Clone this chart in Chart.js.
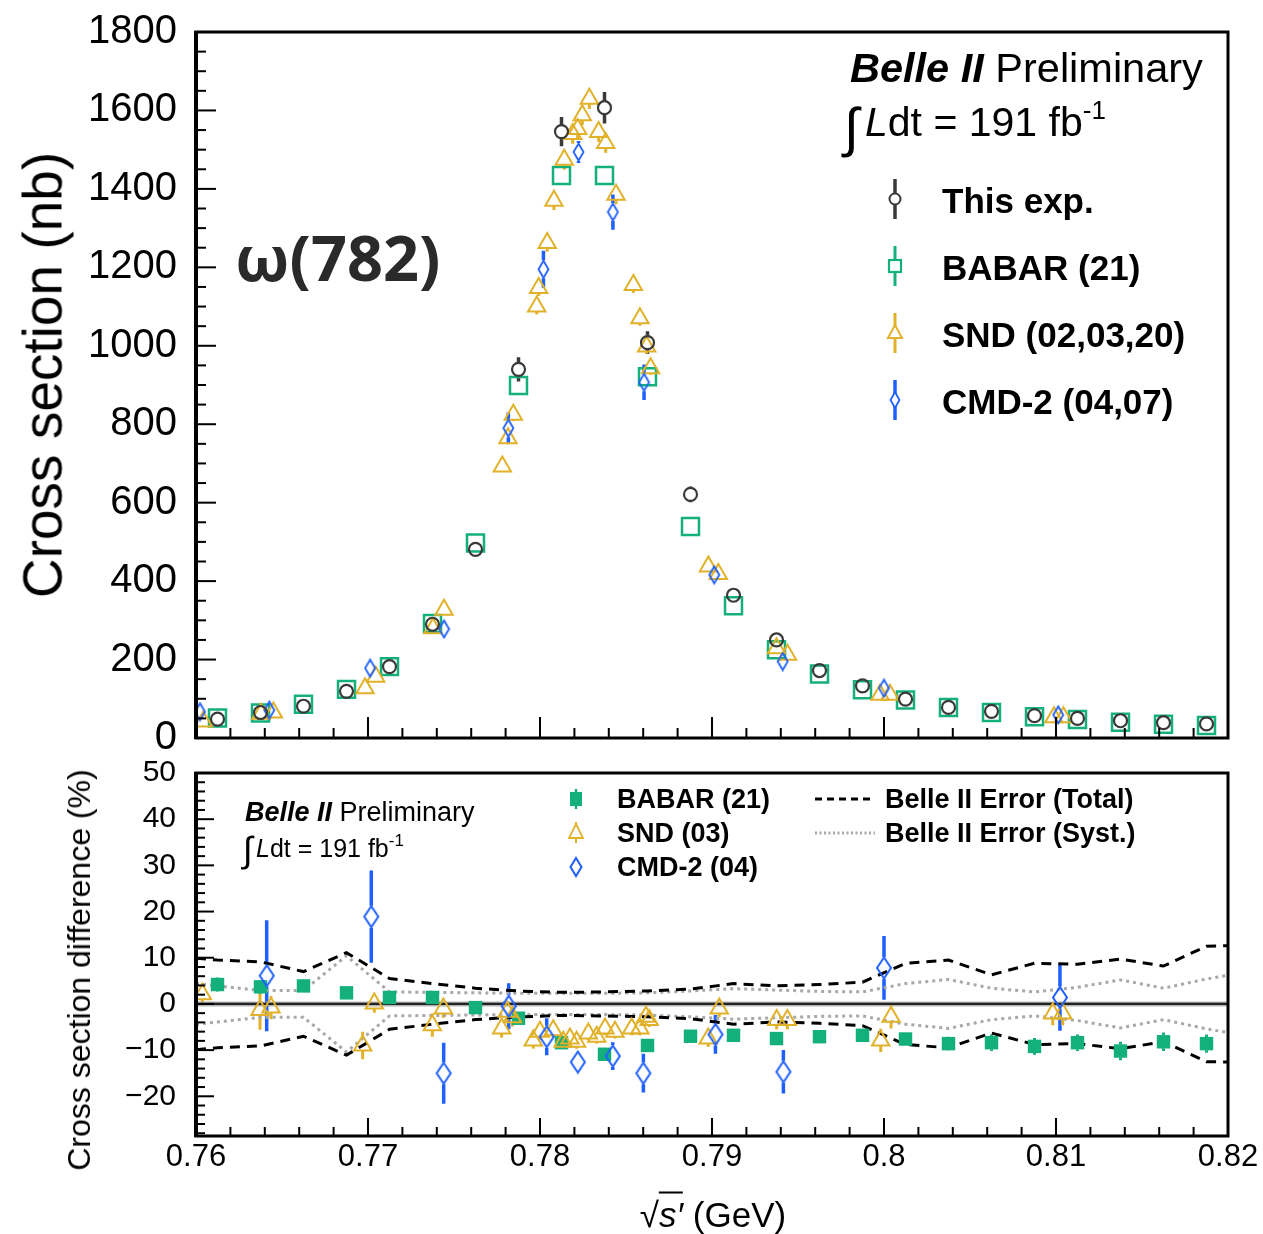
<!DOCTYPE html>
<html><head><meta charset="utf-8">
<script src="https://cdn.jsdelivr.net/npm/chart.js@4.4.1/dist/chart.umd.min.js"></script>
<style>
html,body{margin:0;padding:0;background:#fff;}
#wrap{position:relative;width:1263px;height:1234px;overflow:hidden;background:#fff;font-family:'Liberation Sans',Arial,sans-serif;color:#000;}
.box{position:absolute;left:0;width:1263px;}
#top{top:0;height:780px;}
#bot{top:750px;height:484px;background:#fff;}
.t{position:absolute;white-space:nowrap;line-height:1;}
.c{position:absolute;white-space:nowrap;line-height:1;transform:translate(-50%,-50%);}
.rot{position:absolute;white-space:nowrap;line-height:1;transform:translate(-50%,-50%) rotate(-90deg);}
svg.sym{position:absolute;overflow:visible;}
</style></head><body>
<div id="wrap">
  <div class="box" id="top"><canvas id="c1"></canvas></div>
  <div class="box" id="bot"><canvas id="c2"></canvas></div>
  <div id="overlay"></div>
</div>
<script>
// ---------------- DATA ----------------
// Upper panel: cross section (nb) vs sqrt(s') (GeV)
const belleE = [0.76125,0.76375,0.76625,0.76875,0.77125,0.77375,0.77625,0.77875,0.78125,0.78375,0.78625,0.78875,0.79125,0.79375,0.79625,0.79875,0.80125,0.80375,0.80625,0.80875,0.81125,0.81375,0.81625,0.81875];
const belleXS = [48,65,81,119,182,290,481,940,1546,1607,1008,621,364,250,172,133,99,78,68,57,50,44,39,36];
const belleErr = [4,4,5,6,8,10,12,31,37,40,29,20,12,9,7,6,5,4,4,3,3,3,3,3];
const babarXS = [51,64,86,124,182,292,497,899,1434,1434,921,539,337,225,163,123,97,78,65,54,47,40,35,32];
const babarErr = [2,2,3,3,4,5,8,12,18,18,12,8,5,4,3,2,2,2,2,2,2,2,2,2];
const sndE = [0.76043,0.76378,0.76450,0.76983,0.77045,0.77378,0.77442,0.77781,0.77814,0.77845,0.77981,0.77992,0.78042,0.78081,0.78141,0.78190,0.78219,0.78246,0.78287,0.78341,0.78382,0.78442,0.78543,0.78581,0.78620,0.78643,0.78979,0.79037,0.79375,0.79439,0.79977,0.80035,0.80988,0.81043];
const sndXS = [42,62,65,127,156,280,327,692,764,824,1100,1147,1262,1370,1474,1540,1553,1588,1630,1545,1517,1385,1155,1070,998,943,437,418,229,212,110,110,53,53];
const sndErr = [3,3,3,4,5,7,8,14,15,16,20,20,22,24,25,25,25,25,26,25,25,24,20,19,18,17,8,8,5,5,3,3,2,2];
const cmdE = [0.76023,0.76426,0.77012,0.77442,0.77816,0.78020,0.78224,0.78424,0.78605,0.79013,0.79411,0.80000,0.81013];
const cmdXS = [67,71,178,278,790,1195,1494,1341,907,416,195,127,59];
const cmdErr = [3,3,6,8,40,47,28,45,45,12,6,4,2];

// Lower panel: cross section difference (%)
const babarDiff = [4.2,3.7,3.9,2.4,1.4,1.4,-0.8,-3.1,-8.4,-10.9,-9.0,-7.0,-6.8,-7.5,-7.1,-6.8,-7.6,-8.6,-8.4,-9.2,-8.4,-10.2,-8.2,-8.6];
const babarDiffErr = [1.5,1.5,1.3,1.3,1.1,1.1,1.1,1.1,1.1,1.1,1.1,1.1,1.1,1.1,1.1,1.2,1.4,1.5,1.8,1.8,1.8,2.0,2.0,2.0];
const sndDE = [0.76037,0.76372,0.76436,0.76969,0.77037,0.77374,0.77438,0.77777,0.77810,0.77840,0.77961,0.78000,0.78077,0.78135,0.78174,0.78213,0.78281,0.78330,0.78378,0.78436,0.78533,0.78581,0.78616,0.78635,0.78978,0.79042,0.79376,0.79438,0.79981,0.80041,0.80981,0.81039];
const sndDiff = [2.1,-1.3,-0.8,-9.0,0.1,-4.6,-1.0,-5.3,-1.7,-2.9,-7.9,-6.0,-5.7,-8.2,-7.5,-8.2,-6.4,-7.1,-5.3,-6.0,-5.3,-5.3,-2.8,-3.5,-7.5,-1.0,-3.5,-3.5,-7.9,-2.8,-2.1,-2.1];
const sndDiffErr = [2.5,4.3,2.5,3.0,2.0,2.5,2.0,2.0,2.0,2.0,1.8,1.8,1.5,1.5,1.5,1.5,1.5,1.5,1.5,1.5,1.5,1.5,1.5,1.5,1.8,1.8,2.0,2.0,2.5,2.5,2.5,2.5];
const cmdDE = [0.76411,0.77019,0.77440,0.77818,0.78039,0.78220,0.78423,0.78601,0.79020,0.79415,0.80000,0.81023];
const cmdDiff = [6.1,18.9,-15.0,-0.5,-7.1,-12.6,-11.3,-15.0,-6.6,-14.7,7.8,1.4];
const cmdDiffErr = [12,10,6.6,5,4,2,3,4.2,4.2,4.7,6.9,7.2];
const bandE = [0.76,0.76125,0.76375,0.76625,0.76875,0.77125,0.77375,0.77625,0.77875,0.78125,0.78375,0.78625,0.78875,0.79125,0.79375,0.79625,0.79875,0.80125,0.80375,0.80625,0.80875,0.81125,0.81375,0.81625,0.81875,0.82];
const totalErr = [9.9,9.5,9.1,7.0,11.1,5.5,4.4,3.4,2.8,2.5,2.6,2.8,3.2,4.4,3.9,4.2,4.7,8.8,9.5,6.3,8.8,8.6,9.7,8.2,12.5,12.6];
const systErr = [4.4,3.9,2.9,2.9,10.4,2.6,2.5,2.4,2.3,2.3,2.3,2.4,2.8,3.3,3.0,2.7,2.6,4.4,5.3,3.4,2.6,3.6,5.2,3.4,5.4,6.2];

const xTickLabels = ['0.76','0.77','0.78','0.79','0.8','0.81','0.82'];

// ---------------- STYLES ----------------
const C_BELLE = '#3a3a3a', C_BABAR = '#14b07b', C_SND = '#e2b12a', C_CMD = '#1e5fff';
const FONT = "'Liberation Sans', Arial, sans-serif";

function diamond(w, h, color, lw) {
  const c = document.createElement('canvas');
  c.width = w + 2 * lw; c.height = h + 2 * lw;
  const g = c.getContext('2d');
  g.strokeStyle = color; g.lineWidth = lw;
  const cx = c.width / 2, cy = c.height / 2;
  g.beginPath(); g.moveTo(cx, cy - h / 2); g.lineTo(cx + w / 2, cy); g.lineTo(cx, cy + h / 2); g.lineTo(cx - w / 2, cy); g.closePath(); g.stroke();
  return c;
}

const pts = (xs, ys) => xs.map((x, i) => ({x: x, y: ys[i]}));

const errPlugin = {
  id: 'errbars',
  beforeDatasetsDraw(chart) {
    const {ctx, chartArea: a} = chart;
    const ys = chart.scales.y;
    ctx.save();
    ctx.beginPath(); ctx.rect(a.left, a.top, a.right - a.left, a.bottom - a.top); ctx.clip();
    chart.data.datasets.forEach((ds, i) => {
      if (!ds.errs) return;
      const meta = chart.getDatasetMeta(i);
      ctx.strokeStyle = ds.errColor; ctx.lineWidth = ds.errWidth; ctx.lineCap = 'butt';
      meta.data.forEach((pt, j) => {
        const v = ds.data[j].y, e = ds.errs[j];
        const yT = ys.getPixelForValue(v + e), yB = ys.getPixelForValue(v - e);
        ctx.beginPath();
        if (pt.y - yT > ds.gapUp) { ctx.moveTo(pt.x, yT); ctx.lineTo(pt.x, pt.y - ds.gapUp); }
        if (yB - pt.y > ds.gapDn) { ctx.moveTo(pt.x, pt.y + ds.gapDn); ctx.lineTo(pt.x, yB); }
        ctx.stroke();
      });
    });
    ctx.restore();
  }
};

const framePlugin = {
  id: 'frame',
  beforeDatasetsDraw(chart, args, o) {
    if (!o.zero) return;
    const {ctx, chartArea: a, scales: {y}} = chart;
    const p = y.getPixelForValue(0);
    ctx.save();
    ctx.strokeStyle = 'rgba(160,160,160,0.8)'; ctx.lineWidth = 5;
    ctx.beginPath(); ctx.moveTo(a.left, p); ctx.lineTo(a.right, p); ctx.stroke();
    ctx.strokeStyle = '#222'; ctx.lineWidth = 2.2;
    ctx.beginPath(); ctx.moveTo(a.left, p); ctx.lineTo(a.right, p); ctx.stroke();
    ctx.restore();
  },
  afterDraw(chart, args, o) {
    const {ctx, chartArea: a, scales: {x, y}} = chart;
    ctx.save();
    ctx.strokeStyle = '#000';
    ctx.lineWidth = 2;
    const tick = (scale, step, major, lMaj, lMin, hor) => {
      const n0 = Math.ceil(scale.min / step - 1e-6), n1 = Math.floor(scale.max / step + 1e-6);
      const r = Math.round(major / step);
      for (let k = n0; k <= n1; k++) {
        const p = scale.getPixelForValue(k * step);
        const L = (((k % r) + r) % r === 0) ? lMaj : lMin;
        ctx.beginPath();
        if (hor) { ctx.moveTo(p, a.bottom); ctx.lineTo(p, a.bottom - L); }
        else { ctx.moveTo(a.left, p); ctx.lineTo(a.left + L, p); }
        ctx.stroke();
      }
    };
    tick(x, o.xMin, o.xMaj, o.xLMaj, o.xLMin, true);
    tick(y, o.yMin, o.yMaj, o.yLMaj, o.yLMin, false);
    ctx.lineWidth = 3;
    ctx.strokeRect(a.left, a.top, a.right - a.left, a.bottom - a.top);
    ctx.lineWidth = 4;
    ctx.beginPath(); ctx.moveTo(a.left, a.top - 1); ctx.lineTo(a.left, a.bottom + 1); ctx.stroke();
    ctx.restore();
  }
};

const xFmt = v => { const s = (Math.round(v * 100) / 100).toFixed(2).replace(/0$/, ''); return xTickLabels.includes(s) ? s : ''; };

// scale box sizes: fixed width/height and no extra label overhang padding
const fitY = s => { s.width = 196; s.paddingTop = 0; s.paddingBottom = 0; };
const fitX = h => s => { s.height = h; s.paddingLeft = 0; s.paddingRight = 0; };

// ---------------- TOP CHART ----------------
new Chart(document.getElementById('c1'), {
  type: 'scatter',
  data: {
    datasets: [
      { label: 'This exp.', data: pts(belleE, belleXS), errs: belleErr, errColor: C_BELLE, errWidth: 3.5, gapUp: 6.5, gapDn: 6.5,
        pointStyle: 'circle', pointRadius: 6.5, pointHoverRadius: 6.5, borderColor: C_BELLE, backgroundColor: 'rgba(0,0,0,0)', borderWidth: 2.2 },
      { label: 'CMD-2 (04,07)', data: pts(cmdE, cmdXS), errs: cmdErr, errColor: C_CMD, errWidth: 3.5, gapUp: 9, gapDn: 9,
        pointStyle: diamond(10, 17, C_CMD, 1.8), pointRadius: 8, borderColor: C_CMD, backgroundColor: 'rgba(0,0,0,0)' },
      { label: 'SND (02,03,20)', data: pts(sndE, sndXS), errs: sndErr, errColor: C_SND, errWidth: 3, gapUp: 10, gapDn: 5,
        pointStyle: 'triangle', pointRadius: 10, pointHoverRadius: 10, borderColor: C_SND, backgroundColor: 'rgba(0,0,0,0)', borderWidth: 2 },
      { label: 'BABAR (21)', data: pts(belleE, babarXS), errs: babarErr, errColor: C_BABAR, errWidth: 2.5, gapUp: 8.5, gapDn: 8.5,
        pointStyle: 'rect', pointRadius: 12, pointHoverRadius: 12, borderColor: C_BABAR, backgroundColor: 'rgba(0,0,0,0)', borderWidth: 2.5 }
    ]
  },
  options: {
    responsive: true, maintainAspectRatio: false, animation: false,
    layout: { autoPadding: false, padding: { left: 0, right: 35, top: 32, bottom: 0 } },
    plugins: { legend: { display: false }, tooltip: { enabled: false },
      frame: { xMin: 0.002, xMaj: 0.01, xLMaj: 21, xLMin: 10, yMin: 50, yMaj: 200, yLMaj: 20, yLMin: 10 } },
    scales: {
      x: { type: 'linear', min: 0.76, max: 0.82, grid: { display: false, drawTicks: false }, border: { display: false },
           ticks: { display: false, stepSize: 0.01 }, afterFit: fitX(42) },
      y: { type: 'linear', min: 0, max: 1800, grid: { display: false, drawTicks: false }, border: { display: false },
           ticks: { stepSize: 200, padding: 19, color: '#000', autoSkip: false, font: { family: FONT, size: 40 }, callback: v => String(v) },
           afterFit: fitY }
    }
  },
  plugins: [errPlugin, framePlugin]
});

// ---------------- BOTTOM CHART ----------------
new Chart(document.getElementById('c2'), {
  type: 'scatter',
  data: {
    datasets: [
      { label: 'CMD-2 (04)', data: pts(cmdDE, cmdDiff), errs: cmdDiffErr, errColor: C_CMD, errWidth: 3.5, gapUp: 11, gapDn: 11,
        pointStyle: diamond(14, 21, C_CMD, 2), pointRadius: 10, borderColor: C_CMD, backgroundColor: 'rgba(0,0,0,0)' },
      { label: 'SND (03)', data: pts(sndDE, sndDiff), errs: sndDiffErr, errColor: C_SND, errWidth: 3, gapUp: 10, gapDn: 5,
        pointStyle: 'triangle', pointRadius: 10, pointHoverRadius: 10, borderColor: C_SND, backgroundColor: 'rgba(0,0,0,0)', borderWidth: 2 },
      { label: 'BABAR (21)', data: pts(belleE, babarDiff), errs: babarDiffErr, errColor: C_BABAR, errWidth: 3, gapUp: 6.5, gapDn: 6.5,
        pointStyle: 'rect', pointRadius: 9.5, pointHoverRadius: 9.5, borderColor: C_BABAR, backgroundColor: C_BABAR, borderWidth: 0 },
      { type: 'line', label: 'tot+', data: pts(bandE, totalErr), borderColor: '#000', borderWidth: 3, borderDash: [10, 7], pointRadius: 0, fill: false, tension: 0 },
      { type: 'line', label: 'tot-', data: pts(bandE, totalErr.map(v => -v)), borderColor: '#000', borderWidth: 3, borderDash: [10, 7], pointRadius: 0, fill: false, tension: 0 },
      { type: 'line', label: 'sys+', data: pts(bandE, systErr), borderColor: '#a8a8a8', borderWidth: 3, borderDash: [3, 4], pointRadius: 0, fill: false, tension: 0 },
      { type: 'line', label: 'sys-', data: pts(bandE, systErr.map(v => -v)), borderColor: '#a8a8a8', borderWidth: 3, borderDash: [3, 4], pointRadius: 0, fill: false, tension: 0 }
    ]
  },
  options: {
    responsive: true, maintainAspectRatio: false, animation: false,
    layout: { autoPadding: false, padding: { left: 0, right: 35, top: 23, bottom: 0 } },
    plugins: { legend: { display: false }, tooltip: { enabled: false },
      frame: { zero: true, xMin: 0.002, xMaj: 0.01, xLMaj: 18, xLMin: 9, yMin: 2, yMaj: 10, yLMaj: 18, yLMin: 9 } },
    scales: {
      x: { type: 'linear', min: 0.76, max: 0.82, grid: { display: false, drawTicks: false }, border: { display: false },
           ticks: { stepSize: 0.01, padding: 3, color: '#000', autoSkip: false, maxRotation: 0, includeBounds: false, font: { family: FONT, size: 31 }, callback: xFmt },
           afterFit: fitX(98) },
      y: { type: 'linear', min: -28.6, max: 50, grid: { display: false, drawTicks: false }, border: { display: false },
           ticks: { stepSize: 10, padding: 20, color: '#000', autoSkip: false, includeBounds: false, font: { family: FONT, size: 30 },
                    callback: v => v < 0 ? '\u2212' + Math.abs(v) : String(v) },
           afterFit: fitY }
    }
  },
  plugins: [errPlugin, framePlugin]
});

// ---------------- TEXT & LEGENDS (HTML) ----------------
const ov = document.getElementById('overlay');
function txt(html, left, baseline, size, extra) {
  const d = document.createElement('div');
  d.className = 't';
  d.innerHTML = html;
  d.style.left = left + 'px';
  d.style.top = (baseline - 0.8465 * size) + 'px';
  d.style.fontSize = size + 'px';
  if (extra) Object.assign(d.style, extra);
  ov.appendChild(d);
  return d;
}
function svg(inner, cx, cy, w, h) {
  const d = document.createElementNS('http://www.w3.org/2000/svg', 'svg');
  d.setAttribute('class', 'sym');
  d.setAttribute('width', w); d.setAttribute('height', h);
  d.setAttribute('viewBox', `${-w/2} ${-h/2} ${w} ${h}`);
  d.style.left = (cx - w / 2) + 'px'; d.style.top = (cy - h / 2) + 'px';
  d.innerHTML = inner;
  ov.appendChild(d);
}

// axis titles
(function () {
  const a = document.createElement('div'); a.className = 'rot'; a.textContent = 'Cross section (nb)';
  Object.assign(a.style, { left: '43px', top: '375px', fontSize: '55px' }); ov.appendChild(a);
  const b = document.createElement('div'); b.className = 'rot'; b.textContent = 'Cross section difference (%)';
  Object.assign(b.style, { left: '79px', top: '970px', fontSize: '32px' }); ov.appendChild(b);
  const c = document.createElement('div'); c.className = 'c';
  c.innerHTML = '\u221A<span style="font-style:italic;border-top:2px solid #000;padding-top:1px">s\u2032</span> (GeV)';
  Object.assign(c.style, { left: '713px', top: '1214px', fontSize: '35px' }); ov.appendChild(c);
})();

// top panel annotations
txt('\u03C9(782)', 235, 278, 63, { fontFamily: "'Noto Sans', sans-serif", fontWeight: '700', color: '#2a2a2a' });
txt('<b><i>Belle II</i></b> Preliminary', 850, 82, 41.5);
txt('\u222B', 844, 146, 54);
txt('<i>L</i>dt = 191 fb<span style="font-size:26px;position:relative;top:-17px">-1</span>', 865, 137, 41);

// top legend
const legTop = [
  { name: 'This exp.', col: C_BELLE, y: 199, mk: `<circle r="5.5" fill="#fff" stroke="${C_BELLE}" stroke-width="2"/>`, lw: 3.5 },
  { name: 'BABAR (21)', col: C_BABAR, y: 266, mk: `<rect x="-6" y="-6" width="12" height="12" fill="#fff" stroke="${C_BABAR}" stroke-width="2.2"/>`, lw: 3 },
  { name: 'SND (02,03,20)', col: C_SND, y: 333, mk: `<polygon points="0,-8 7,5 -7,5" fill="#fff" stroke="${C_SND}" stroke-width="2"/>`, lw: 3 },
  { name: 'CMD-2 (04,07)', col: C_CMD, y: 400, mk: `<polygon points="0,-8 4.5,0 0,8 -4.5,0" fill="#fff" stroke="${C_CMD}" stroke-width="1.8"/>`, lw: 3.5 }
];
legTop.forEach(e => {
  svg(`<line x1="0" y1="-20" x2="0" y2="20" stroke="${e.col}" stroke-width="${e.lw}"/>${e.mk}`, 895, e.y, 24, 44);
  txt(e.name, 942, e.y + 14, 35, { fontWeight: '700' });
});

// bottom panel annotations
txt('<b><i>Belle II</i></b> Preliminary', 245, 822, 27);
txt('\u222B', 243, 862, 36);
txt('<i>L</i>dt = 191 fb<span style="font-size:17px;position:relative;top:-11px">-1</span>', 256, 857, 25);

// bottom legend
svg(`<line x1="0" y1="-10" x2="0" y2="10" stroke="${C_BABAR}" stroke-width="2.5"/><rect x="-6" y="-7" width="12" height="14" fill="${C_BABAR}"/>`, 576, 799, 20, 24);
svg(`<line x1="0" y1="-11" x2="0" y2="10" stroke="${C_SND}" stroke-width="2"/><polygon points="0,-9 7,5 -7,5" fill="#fff" stroke="${C_SND}" stroke-width="1.8"/>`, 576, 833, 20, 26);
svg(`<polygon points="0,-9 5.5,0 0,9 -5.5,0" fill="none" stroke="${C_CMD}" stroke-width="2"/>`, 576, 867, 20, 24);
txt('BABAR (21)', 617, 809, 27, { fontWeight: '700' });
txt('SND (03)', 617, 843, 27, { fontWeight: '700' });
txt('CMD-2 (04)', 617, 877, 27, { fontWeight: '700' });
svg(`<line x1="-30" y1="0" x2="30" y2="0" stroke="#000" stroke-width="3" stroke-dasharray="7 5"/>`, 845, 799, 64, 8);
svg(`<line x1="-30" y1="0" x2="30" y2="0" stroke="#a8a8a8" stroke-width="3" stroke-dasharray="2 2.5"/>`, 845, 833, 64, 8);
txt('Belle II Error (Total)', 885, 809, 27, { fontWeight: '700' });
txt('Belle II Error (Syst.)', 885, 843, 27, { fontWeight: '700' });
</script>
</body></html>
